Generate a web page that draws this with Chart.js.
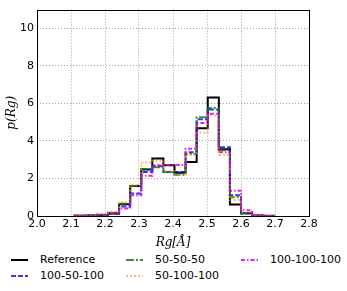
<!DOCTYPE html>
<html>
<head>
<meta charset="utf-8">
<script src="https://cdn.jsdelivr.net/npm/chart.js@4/dist/chart.umd.min.js"></script>
<style>
  html, body { margin: 0; padding: 0; background: #fff; }
  #wrap { position: relative; width: 347px; height: 291px; overflow: hidden; }
  #box { position: absolute; left: 0; top: 0; width: 347px; height: 250px; }
  .lg { position: absolute; font-family: "DejaVu Sans", sans-serif; font-size: 11px; color: #000; white-space: nowrap; line-height: 13px; }
  .lg svg { position: absolute; }
</style>
</head>
<body>
<div id="wrap">
  <div id="box"><canvas id="c"></canvas></div>
  <div id="legend"></div>
</div>
<script>
// Bin edges (Rg, Å) and histogram heights
const binEdges = [2.1110, 2.1436, 2.1762, 2.2088, 2.2414, 2.2740, 2.3066, 2.3392, 2.3718,
                  2.4044, 2.4370, 2.4696, 2.5022, 2.5348, 2.5674, 2.6000, 2.6326, 2.6652, 2.6978];
const seriesNames = ["Reference", "100-50-100", "50-50-50", "50-100-100", "100-100-100"];
const reference   = [0.01, 0.02, 0.05, 0.15, 0.62, 1.60, 2.48, 3.07, 2.70, 2.30, 2.88, 4.67, 6.32, 3.56, 0.61, 0.15, 0.02, 0.00];
const s100_50_100 = [0.01, 0.02, 0.06, 0.10, 0.50, 1.20, 2.34, 2.65, 2.35, 2.35, 3.40, 5.15, 5.68, 3.66, 1.11, 0.15, 0.03, 0.01];
const s50_50_50   = [0.01, 0.02, 0.05, 0.17, 0.65, 1.60, 2.50, 2.60, 2.35, 2.20, 3.30, 5.26, 5.75, 3.50, 1.00, 0.15, 0.02, 0.00];
const s50_100_100 = [0.02, 0.05, 0.12, 0.22, 0.73, 1.65, 2.85, 2.95, 2.40, 2.20, 3.25, 4.44, 5.35, 3.25, 0.85, 0.20, 0.05, 0.01];
const s100_100_100= [0.01, 0.02, 0.04, 0.10, 0.40, 1.10, 2.15, 2.70, 2.72, 2.72, 3.58, 4.95, 5.45, 3.40, 1.35, 0.30, 0.05, 0.01];
const xTicks = [2.0, 2.1, 2.2, 2.3, 2.4, 2.5, 2.6, 2.7, 2.8];
const yTicks = [0, 2, 4, 6, 8, 10];

const allValues = [reference, s100_50_100, s50_50_50, s50_100_100, s100_100_100];
const styles = [
  { color: "#000000", dash: [], width: 2 },
  { color: "rgba(0,0,255,0.8)", dash: [5, 2], width: 2 },
  { color: "rgba(0,128,0,0.8)", dash: [8, 2, 2, 2], width: 2 },
  { color: "rgba(255,140,20,0.6)", dash: [2, 2], width: 2 },
  { color: "rgba(220,0,220,0.85)", dash: [4, 2, 1.5, 2], width: 2 }
];

function stepPoints(vals) {
  const pts = [{ x: binEdges[0], y: 0 }];
  for (let i = 0; i < vals.length; i++) pts.push({ x: binEdges[i], y: vals[i] });
  const last = binEdges[binEdges.length - 1];
  pts.push({ x: last, y: vals[vals.length - 1] });
  pts.push({ x: last, y: 0 });
  return pts;
}

const datasets = allValues.map((vals, i) => ({
  label: seriesNames[i],
  data: stepPoints(vals),
  stepped: 'before',
  borderColor: styles[i].color,
  borderDash: styles[i].dash,
  borderWidth: styles[i].width,
  pointRadius: 0,
  fill: false,
  order: allValues.length - 1 - i
}));

const framePlugin = {
  id: 'frame',
  afterDraw(chart) {
    const a = chart.chartArea, ctx = chart.ctx;
    ctx.save();
    ctx.strokeStyle = '#000';
    ctx.lineWidth = 1;
    ctx.strokeRect(Math.round(a.left) + 0.5, Math.round(a.top) + 0.5,
                   Math.round(a.right - a.left), Math.round(a.bottom - a.top));
    ctx.restore();
  }
};

const gridStyle = { color: '#a0a0a0', lineWidth: 1, drawTicks: false };

new Chart(document.getElementById('c'), {
  type: 'line',
  data: { datasets },
  options: {
    responsive: true,
    maintainAspectRatio: false,
    animation: false,
    layout: { padding: { left: 0, right: 38, top: 4, bottom: 0 } },
    plugins: { legend: { display: false }, tooltip: { enabled: false } },
    scales: {
      x: {
        type: 'linear', min: 2.0, max: 2.8,
        afterBuildTicks: s => { s.ticks = xTicks.map(v => ({ value: v })); },
        afterFit: s => { s.height = 34; },
        grid: gridStyle,
        border: { display: false, dash: [1, 2] },
        ticks: { color: '#000', font: { family: 'DejaVu Sans', size: 11 }, padding: 2,
                 maxRotation: 0, callback: v => Number(v).toFixed(1) },
        title: { display: true, text: 'Rg[Å]', color: '#000',
                 font: { family: 'DejaVu Serif', size: 12, style: 'italic' }, padding: { top: 0, bottom: 0 } }
      },
      y: {
        type: 'linear', min: 0, max: 11,
        afterBuildTicks: s => { s.ticks = yTicks.map(v => ({ value: v })); },
        afterFit: s => { s.width = 37; },
        grid: gridStyle,
        border: { display: false, dash: [1, 2] },
        ticks: { color: '#000', font: { family: 'DejaVu Sans', size: 11 }, padding: 3,
                 callback: v => String(v) },
        title: { display: true, text: 'p(Rg)', color: '#000',
                 font: { family: 'DejaVu Serif', size: 12, style: 'italic' }, padding: { top: 5, bottom: 0 } }
      }
    }
  },
  plugins: [framePlugin]
});

// Legend (3 columns, filled column by column like the reference)
const legendPos = [
  { x: 11, y: 260 }, { x: 11, y: 276 },
  { x: 126, y: 260 }, { x: 126, y: 276 },
  { x: 241, y: 260 }
];
const lg = document.getElementById('legend');
seriesNames.forEach((name, i) => {
  const p = legendPos[i];
  const d = document.createElement('div');
  d.className = 'lg';
  d.style.left = p.x + 'px';
  d.style.top = (p.y - 7) + 'px';
  d.style.width = '110px';
  d.style.height = '14px';
  const st = styles[i];
  d.innerHTML = '<svg width="18" height="14" style="left:0;top:0"><line x1="0" y1="7" x2="17" y2="7" stroke="' +
    st.color + '" stroke-width="' + st.width + '" stroke-dasharray="' + (st.dash.length ? st.dash.join(',') : 'none') +
    '"/></svg><span style="position:absolute;left:29px;top:0">' + name + '</span>';
  lg.appendChild(d);
});
</script>
</body>
</html>
